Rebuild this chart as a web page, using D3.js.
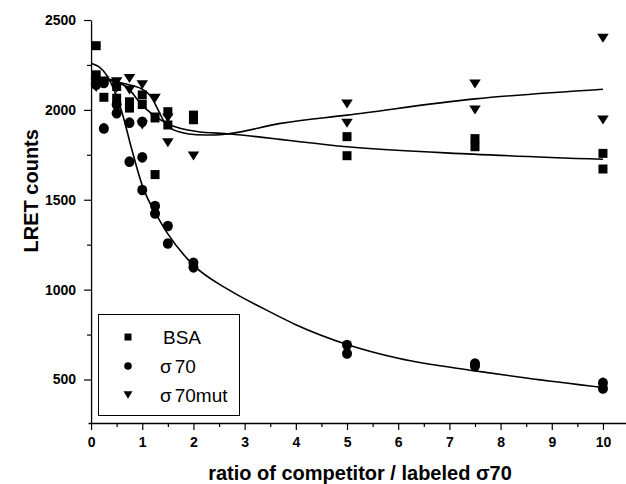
<!DOCTYPE html>
<html><head><meta charset="utf-8">
<script src="https://cdn.jsdelivr.net/npm/d3@7"></script>
<style>body{margin:0;background:#fff}svg{display:block}</style>
</head><body>
<svg id="c" width="626" height="484"></svg>
<script>
// ---- data ----
const xMajorTicks = [0,1,2,3,4,5,6,7,8,9,10];
const xMinorTicks = [0.5,1.5,2.5,3.5,4.5,5.5,6.5,7.5,8.5,9.5,10.5];
const yMajorTicks = [500,1000,1500,2000,2500];
const yMinorTicks = [750,1250,1750,2250];

const seriesNames = ["BSA","σ70","σ70mut"];

const bsaPoints = [[0.1,2357],[0.1,2195],[0.25,2070],[0.5,2130],[0.5,2065],[0.75,2045],[0.75,2010],
  [1,2083],[1,2030],[1.25,1955],[1.25,1640],[1.5,1990],[1.5,1916],[2,1971],[2,1945],
  [5,1851],[5,1745],[7.5,1840],[7.5,1795],[10,1758],[10,1671]];
const sigmaPoints = [[0.1,2170],[0.1,2140],[0.25,2150],[0.25,1897],[0.5,2030],[0.5,1981],
  [0.75,1929],[0.75,1712],[1,1934],[1,1736],[1,1554],[1.25,1465],[1.25,1424],[1.5,1354],[1.5,1257],
  [2,1149],[2,1124],[5,692],[5,645],[7.5,589],[7.5,575],[10,481],[10,450]];
const mutPoints = [[0.1,2150],[0.1,2125],[0.25,2160],[0.5,2157],[0.5,2120],[0.75,2175],[0.75,2110],
  [1,2140],[1,1916],[1.25,2065],[1.25,1960],[1.5,1955],[1.5,1817],[2,1743],
  [5,2033],[5,1925],[7.5,2144],[7.5,2000],[10,2399],[10,1944]];

// fitted curves
const bsaFit = [[0,2180],[0.4,2167],[0.76,2110],[0.96,2037],[1.22,1971],[1.55,1916],[2.06,1880],
  [2.71,1866],[3.69,1836],[4.08,1823],[5,1795],[7.45,1754],[10,1725]];
const sigmaFit = [[0,2260],[0.15,2240],[0.3,2195],[0.45,2110],[0.6,1990],[0.8,1775],[1,1580],
  [1.1,1510],[1.25,1430],[1.5,1310],[2,1136],[2.7,997],[3.4,890],[4,805],[5,695],[6,618],
  [7.5,548],[8.5,508],[10,455]];
const mutFit = [[0,2175],[0.3,2165],[0.6,2150],[0.8,2135],[1,2115],[1.1,2095],[1.2,2060],[1.3,2005],
  [1.45,1925],[1.6,1890],[1.75,1876],[2.06,1862],[2.4,1860],[2.71,1868],[3.7,1925],[5,1971],
  [7.5,2061],[10,2115]];

// ---- drawing ----
const svg = d3.select("#c");
svg.append("rect").attr("width",626).attr("height",484).attr("fill","#fff");

const x = d3.scaleLinear().domain([-0.06, 10.45]).range([88, 626]);
const y = d3.scaleLinear().domain([258, 2500]).range([423, 20]);

const FONT = "'Liberation Sans', Arial, Helvetica, sans-serif";

// axes
const gx = svg.append("g").attr("transform", `translate(0,${y(258)})`);
gx.call(d3.axisBottom(x).tickValues(xMajorTicks).tickSize(7).tickPadding(7).tickSizeOuter(0).tickFormat(d3.format("d")));
const gxm = svg.append("g").attr("transform", `translate(0,${y(258)})`);
gxm.call(d3.axisBottom(x).tickValues(xMinorTicks).tickSize(4).tickFormat("").tickSizeOuter(0));
gxm.select(".domain").remove();

const gy = svg.append("g").attr("transform", `translate(${x(0)},0)`);
gy.call(d3.axisLeft(y).tickValues(yMajorTicks).tickSize(7).tickPadding(8).tickSizeOuter(0).tickFormat(d3.format("d")));
const gym = svg.append("g").attr("transform", `translate(${x(0)},0)`);
gym.call(d3.axisLeft(y).tickValues(yMinorTicks).tickSize(4).tickFormat("").tickSizeOuter(0));
gym.select(".domain").remove();

svg.selectAll(".domain").attr("stroke","#000").attr("stroke-width",1.3);
svg.selectAll(".tick line").attr("stroke","#000").attr("stroke-width",1.2);
svg.selectAll(".tick text").attr("font-family",FONT).attr("font-size",14).attr("font-weight","bold").attr("fill","#000");

// axis titles
svg.append("text").attr("x",360).attr("y",480).attr("text-anchor","middle")
  .attr("font-family",FONT).attr("font-size",20).attr("font-weight","bold")
  .text("ratio of competitor / labeled σ70");
svg.append("text").attr("transform",`translate(38,${y(1550)}) rotate(-90)`).attr("text-anchor","middle")
  .attr("font-family",FONT).attr("font-size",20).attr("font-weight","bold")
  .text("LRET counts");

// fit curves
const line = d3.line().x(d=>x(d[0])).y(d=>y(d[1])).curve(d3.curveMonotoneX);
[bsaFit, sigmaFit, mutFit].forEach(f=>{
  svg.append("path").attr("d", line(f)).attr("fill","none").attr("stroke","#000").attr("stroke-width",1.6);
});

// markers
function tri(w,h){ return `M${-w/2},${-h/2}L${w/2},${-h/2}L0,${h/2}Z`; }
function sq(s){ return `M${-s/2},${-s/2}h${s}v${s}h${-s}Z`; }

svg.append("g").selectAll("path").data(bsaPoints).join("path")
  .attr("transform",d=>`translate(${x(d[0])},${y(d[1])})`).attr("d",sq(9)).attr("fill","#000");
svg.append("g").selectAll("ellipse").data(sigmaPoints).join("ellipse")
  .attr("cx",d=>x(d[0])).attr("cy",d=>y(d[1])).attr("rx",5).attr("ry",5.3).attr("fill","#000");
svg.append("g").selectAll("path").data(mutPoints).join("path")
  .attr("transform",d=>`translate(${x(d[0])},${y(d[1])})`).attr("d",tri(11.5,9)).attr("fill","#000");

// legend
const lg = svg.append("g");
lg.append("rect").attr("x",98.5).attr("y",314.5).attr("width",141).attr("height",101)
  .attr("fill","#fff").attr("stroke","#000").attr("stroke-width",1);
const ly = [337, 366, 395];
lg.append("path").attr("transform",`translate(128,${ly[0]})`).attr("d",sq(7)).attr("fill","#000");
lg.append("circle").attr("cx",128).attr("cy",ly[1]).attr("r",3.8).attr("fill","#000");
lg.append("path").attr("transform",`translate(128,${ly[2]})`).attr("d",tri(9,7.5)).attr("fill","#000");
seriesNames.forEach((n,i)=>{
  const t = lg.append("text").attr("x", i===0 ? 163 : 160).attr("y", ly[i]).attr("dy","0.36em")
    .attr("font-family",FONT).attr("font-size",19).attr("fill","#000");
  if (n.startsWith("σ")) {
    t.append("tspan").text("σ");
    t.append("tspan").attr("dx",3).text(n.slice(1));
  } else t.text(n);
});
</script>
</body></html>
